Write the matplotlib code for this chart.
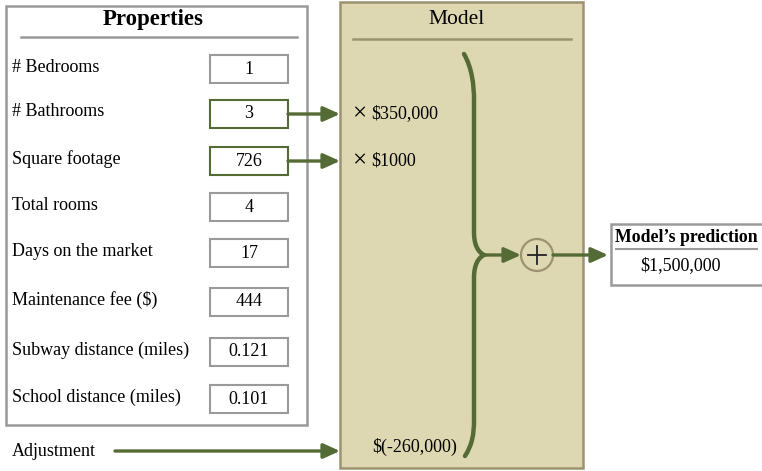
import matplotlib
matplotlib.use("Agg")
import matplotlib.pyplot as plt
from matplotlib.patches import Rectangle, Circle, FancyArrowPatch, PathPatch
from matplotlib.path import Path

# ---- data ----
property_names = ["# Bedrooms", "# Bathrooms", "Square footage", "Total rooms",
                  "Days on the market", "Maintenance fee ($)",
                  "Subway distance (miles)", "School distance (miles)"]
property_values = ["1", "3", "726", "4", "17", "444", "0.121", "0.101"]
used_in_model = [False, True, True, False, False, False, False, False]
coefficients = {"# Bathrooms": "$350,000", "Square footage": "$1000"}
adjustment_label = "Adjustment"
adjustment_value = "$(-260,000)"
prediction_title = "Model\u2019s prediction"
prediction_value = "$1,500,000"

plt.rcParams['font.family'] = ['Liberation Serif', 'DejaVu Serif']
GREEN = "#556b35"
GRAY = "#9a9a9a"
TAN = "#ddd8b1"
TANEDGE = "#9c9270"
FS = 13

fig = plt.figure(figsize=(7.62, 4.71), dpi=100)
ax = fig.add_axes([0, 0, 1, 1])
ax.set_xlim(0, 762)
ax.set_ylim(471, 0)
ax.axis("off")

# Properties panel
ax.add_patch(Rectangle((6, 6), 301, 419, fill=False, ec=GRAY, lw=1.8))
ax.text(153, 20, "Properties", ha="center", va="center", fontsize=16.5, fontweight="bold")
ax.plot([21, 297], [37, 37], color=GRAY, lw=1.8)

row_y = [69, 114, 161, 207, 253, 302, 352, 399]
for name, val, used, y in zip(property_names, property_values, used_in_model, row_y):
    ax.text(12, y - 2, name, ha="left", va="center", fontsize=FS)
    ax.add_patch(Rectangle((210, y - 14), 78, 28, fill=False,
                           ec=GREEN if used else GRAY, lw=1.5))
    ax.text(249, y, val, ha="center", va="center", fontsize=FS)

# Model panel
ax.add_patch(Rectangle((340, 2), 243, 466, fc=TAN, ec=TANEDGE, lw=1.8, zorder=1))
ax.text(457, 19, "Model", ha="center", va="center", fontsize=15.5)
ax.plot([353, 571], [39, 39], color=TANEDGE, lw=1.8)

def arrow(x0, x1, y):
    ax.add_patch(FancyArrowPatch((x0, y), (x1, y), arrowstyle="-|>,head_length=10,head_width=4.5",
                                 color=GREEN, lw=2.4, mutation_scale=1, shrinkA=0, shrinkB=0, zorder=3))

for name, y in zip(property_names, row_y):
    if name in coefficients:
        arrow(288, 340, y)
        ax.text(359.5, y, "\u00d7", ha="center", va="center", fontsize=18, fontweight="light")
        ax.text(371, y, coefficients[name], ha="left", va="center", fontsize=FS)

ax.text(12, 451, adjustment_label, ha="left", va="center", fontsize=FS)
arrow(115, 340, 451)
ax.text(372, 447, adjustment_value, ha="left", va="center", fontsize=FS)

# brace
verts = [(464, 54), (472, 68), (474, 85), (474, 100),
         (474, 232),
         (474, 245), (478, 252), (484, 255),
         (478, 258), (474, 265), (474, 278),
         (474, 420),
         (474, 435), (472, 445), (465, 456)]
codes = [Path.MOVETO, Path.CURVE4, Path.CURVE4, Path.CURVE4,
         Path.LINETO,
         Path.CURVE4, Path.CURVE4, Path.CURVE4,
         Path.CURVE4, Path.CURVE4, Path.CURVE4,
         Path.LINETO,
         Path.CURVE4, Path.CURVE4, Path.CURVE4]
ax.add_patch(PathPatch(Path(verts, codes), fill=False, ec=GREEN, lw=3.2, capstyle="round", zorder=3))

arrow(484, 521, 255)
ax.add_patch(Circle((537, 255), 16, fc=TAN, ec=TANEDGE, lw=1.6, zorder=3))
ax.plot([528, 546], [255, 255], color="#222222", lw=1.3, zorder=4)
ax.plot([537, 537], [246, 264], color="#222222", lw=1.3, zorder=4)
arrow(553, 608, 255)

# prediction box
ax.add_patch(Rectangle((611, 224), 160, 61, fc="white", ec=GRAY, lw=1.8, clip_on=True))
ax.text(615, 238, prediction_title, ha="left", va="center", fontsize=12.8, fontweight="bold")
ax.plot([616, 757], [249, 249], color=GRAY, lw=1.5)
ax.text(640, 266, prediction_value, ha="left", va="center", fontsize=FS)

fig.savefig("out.png", dpi=100, facecolor="white")
